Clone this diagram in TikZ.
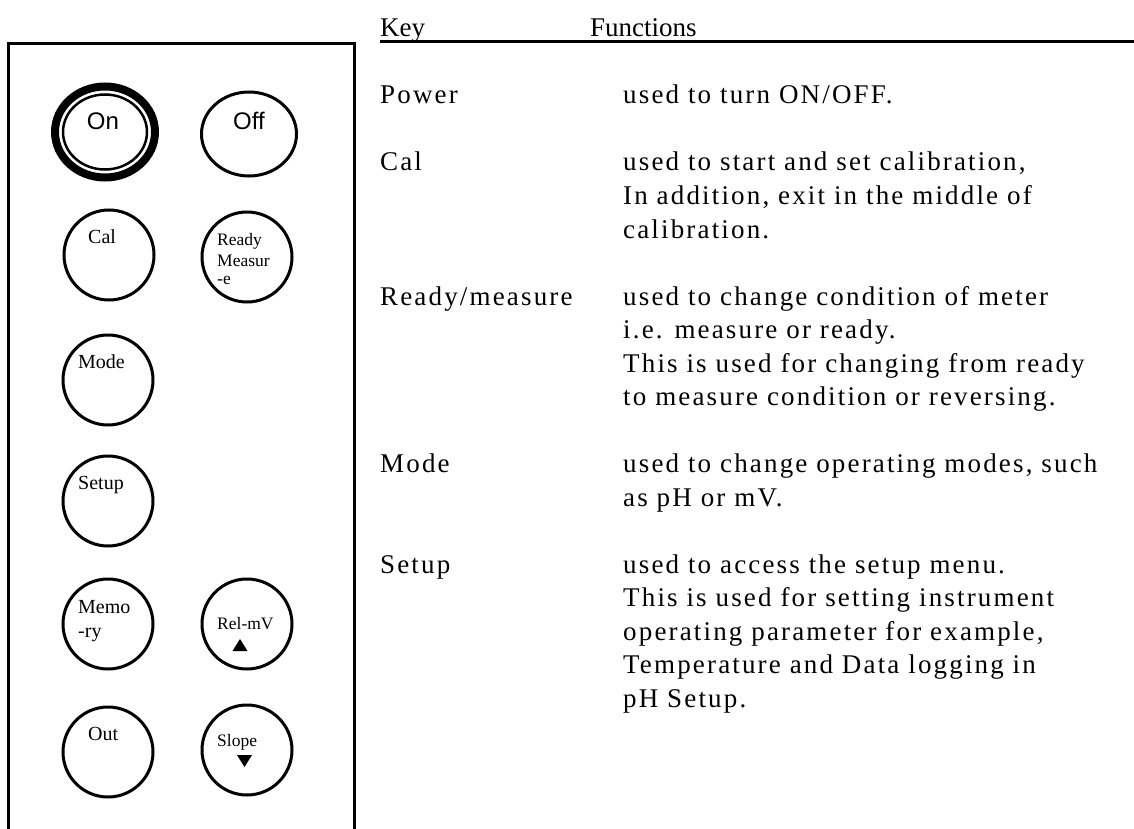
\documentclass[tikz,border=0pt]{standalone}
\usepackage{fontspec}
\setmainfont{Liberation Serif}
\newfontfamily\bodyfont[LetterSpace=8]{Liberation Serif}
\newfontfamily\keyfont{Liberation Sans}
\usetikzlibrary{shapes.geometric}
\begin{document}
\begin{tikzpicture}[x=1pt,y=-1pt,
  btn/.style={draw, line width=3pt, circle, minimum size=90pt, inner sep=0pt},
  txt/.style={font=\bodyfont\fontsize{27}{33}\selectfont, inner sep=0pt, anchor=base west},
  hdr/.style={font=\fontsize{27}{33}\selectfont, inner sep=0pt, anchor=base west},
  lbl/.style={font=\fontsize{20}{24}\selectfont, inner sep=0pt, anchor=base west},
  lbls/.style={font=\fontsize{17.5}{20}\selectfont, inner sep=0pt, anchor=base west},
  sanslbl/.style={font=\keyfont\fontsize{24}{28}\selectfont, inner sep=0pt, anchor=base}]
\useasboundingbox (0,0) rectangle (1134,829);

% instrument front panel
\draw[line width=3pt] (8,829) -- (8,44) -- (354,44) -- (354,829);

% power keys
\node[draw, ellipse, line width=8pt, minimum width=100pt, minimum height=91pt, inner sep=0pt] (on) at (105,132) {};
\node[draw, ellipse, line width=2.5pt, minimum width=84pt, minimum height=75pt, inner sep=0pt] (onring) at (105,132) {};
\node[draw, ellipse, line width=3pt, minimum width=95pt, minimum height=84pt, inner sep=0pt] (off) at (249,134) {};
\node[sanslbl] (ontxt) at (103,130) {On};
\node[sanslbl] (offtxt) at (249,130) {Off};

% function keys
\node[btn] (cal) at (109,255) {};
\node[btn] (ready) at (247,257) {};
\node[btn] (mode) at (108,380) {};
\node[btn] (setup) at (108,501) {};
\node[btn] (memo) at (108,624) {};
\node[btn] (rel) at (247,624) {};
\node[btn] (out) at (108,752) {};
\node[btn] (slope) at (247,750) {};

\node[lbl] (caltxt) at (88,243) {Cal};
\node[lbls] (readytxt) at (217,245) {Ready};
\node[lbls] (readytxtb) at (217,266) {Measur};
\node[lbls] (readytxtc) at (217,284) {-e};
\node[lbl] (modetxt) at (78,368) {Mode};
\node[lbl] (setuptxt) at (78,489) {Setup};
\node[lbl] (memotxt) at (78,613) {Memo};
\node[lbl] (memotxtb) at (78,637) {-ry};
\node[lbls] (reltxt) at (217,629) {Rel-mV};
\node[lbl] (outtxt) at (88,740) {Out};
\node[lbls] (slopetxt) at (217,746) {Slope};
\fill (240,639) -- (247.5,651) -- (232.5,651) -- cycle;
\fill (237,755) -- (252,755) -- (244.5,767) -- cycle;

% key table
\node[hdr] (hkey) at (380,37) {Key};
\node[hdr] (hfun) at (590,37) {Functions};
\draw[line width=2.5pt] (380,41.5) -- (1134,41.5);

\node[txt] (kpower) at (380,104) {Power};
\node[txt] (dpower) at (623,104) {used to turn ON/OFF.};

\node[txt] (kcal) at (380,171) {Cal};
\node[txt] (dcala) at (623,171) {used to start and set calibration,};
\node[txt] (dcalb) at (623,204.5) {In addition, exit in the middle of};
\node[txt] (dcalc) at (623,238) {calibration.};

\node[txt] (kready) at (380,305) {Ready/measure};
\node[txt] (dreadya) at (623,305) {used to change condition of meter};
\node[txt] (dreadyb) at (623,338.5) {i.e. measure or ready.};
\node[txt] (dreadyc) at (623,372) {This is used for changing from ready};
\node[txt] (dreadyd) at (623,405.5) {to measure condition or reversing.};

\node[txt] (kmode) at (380,472.5) {Mode};
\node[txt] (dmodea) at (623,472.5) {used to change operating modes, such};
\node[txt] (dmodeb) at (623,506) {as pH or mV.};

\node[txt] (ksetup) at (380,573) {Setup};
\node[txt] (dsetupa) at (623,573) {used to access the setup menu.};
\node[txt] (dsetupb) at (623,606.5) {This is used for setting instrument};
\node[txt] (dsetupc) at (623,640) {operating parameter for example,};
\node[txt] (dsetupd) at (623,673.5) {Temperature and Data logging in};
\node[txt] (dsetupe) at (623,707) {pH Setup.};
\end{tikzpicture}
\end{document}
